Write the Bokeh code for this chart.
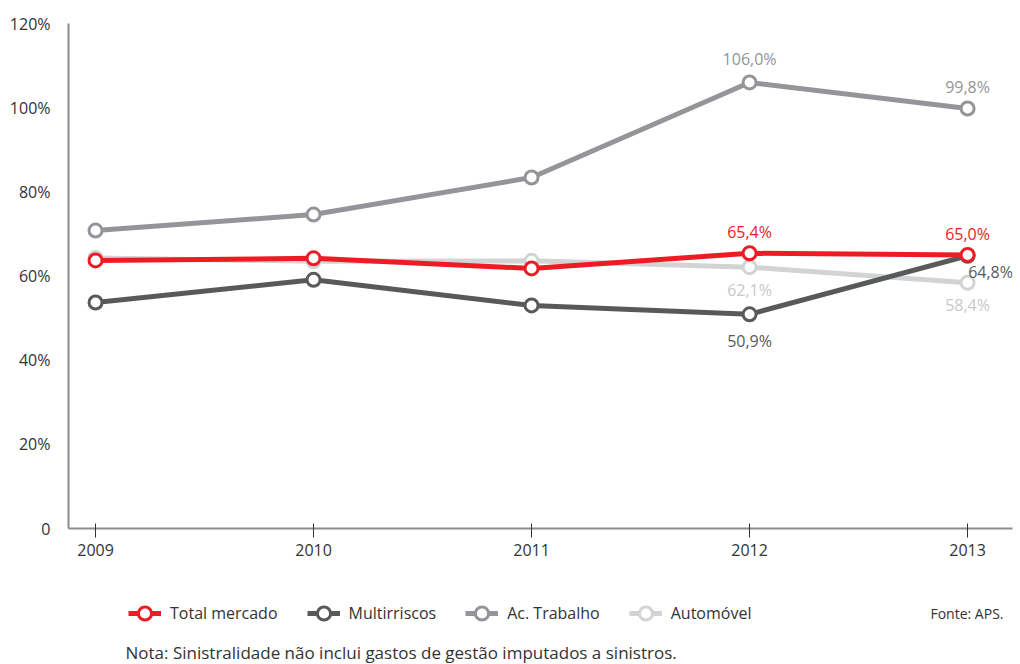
from bokeh.plotting import figure
from bokeh.models import (ColumnDataSource, FixedTicker, Legend, LegendItem,
                          LabelSet, Label, Range1d)
from bokeh.layouts import column
from bokeh.core.properties import value
from bokeh.embed import file_html
from bokeh.resources import INLINE

years = [2009, 2010, 2011, 2012, 2013]
total_mercado = [63.7, 64.2, 61.8, 65.4, 65.0]
multirriscos = [53.7, 59.1, 53.0, 50.9, 64.8]
ac_trabalho = [70.8, 74.6, 83.4, 106.0, 99.8]
automovel = [64.3, 63.5, 63.6, 62.1, 58.4]
y_ticks = [0, 20, 40, 60, 80, 100, 120]
y_tick_labels = ["0", "20%", "40%", "60%", "80%", "100%", "120%"]

names = ["Total mercado", "Multirriscos", "Ac. Trabalho", "Automóvel"]
series = [total_mercado, multirriscos, ac_trabalho, automovel]
colors = ["#ed1c24", "#58595b", "#939598", "#d1d3d4"]
label_colors = ["#ed1c24", "#58595b", "#939598", "#c8c9cb"]
# label offsets (px) for last two points: (x_off, y_off) for 2012 and 2013
offsets = {
    "Total mercado": [(0, 21), (0, 21)],
    "Multirriscos": [(0, -27), (23, -16)],
    "Ac. Trabalho": [(0, 23), (0, 22)],
    "Automóvel": [(0, -23), (0, -22)],
}
FONT = "Open Sans"

p = figure(width=1020, height=570, output_backend="svg", toolbar_location=None,
           x_range=Range1d(2008.876, 2013.206), y_range=Range1d(0, 120),
           frame_width=944, frame_height=505,
           min_border_left=68, min_border_right=8, min_border_top=23,
           min_border_bottom=42)
p.outline_line_color = None
p.grid.grid_line_color = None

# axes
p.yaxis.ticker = FixedTicker(ticks=y_ticks)
p.yaxis.major_label_overrides = {t: l for t, l in zip(y_ticks, y_tick_labels)}
p.yaxis.major_tick_line_color = None
p.yaxis.minor_tick_line_color = None
p.yaxis.axis_line_color = "#8c8c8c"
p.yaxis.axis_line_width = 2
p.yaxis.major_label_standoff = 12
p.xaxis.ticker = FixedTicker(ticks=years)
p.xaxis.minor_tick_line_color = None
p.xaxis.axis_line_color = "#8c8c8c"
p.xaxis.axis_line_width = 2
p.xaxis.major_tick_in = 5
p.xaxis.major_tick_out = 9
p.xaxis.major_tick_line_color = "#333333"
p.xaxis.major_label_standoff = 6
for ax in (p.xaxis, p.yaxis):
    ax.major_label_text_font = FONT
    ax.major_label_text_font_size = "16px"
    ax.major_label_text_color = "#333333"

order = ["Automóvel", "Ac. Trabalho", "Multirriscos", "Total mercado"]
for name in order:
    i = names.index(name)
    src = ColumnDataSource(dict(x=years, y=series[i]))
    p.line("x", "y", source=src, line_color=colors[i], line_width=5)
    p.scatter("x", "y", source=src, size=13, fill_color="white",
              line_color=colors[i], line_width=3)

    vals = series[i][-2:]
    lsrc = ColumnDataSource(dict(
        x=years[-2:], y=vals,
        t=[f"{v:.1f}".replace(".", ",") + "%" for v in vals],
        xo=[o[0] for o in offsets[name]], yo=[o[1] for o in offsets[name]]))
    p.add_layout(LabelSet(x="x", y="y", text="t", source=lsrc,
                          x_offset="xo", y_offset="yo",
                          text_align="center", text_baseline="middle",
                          text_color=label_colors[i],
                          text_font=value(FONT), text_font_size="16px"))

# footer figure: legend, source and note (frame aligned with the chart above)
f = figure(width=1020, height=94, output_backend="svg", toolbar_location=None,
           x_range=Range1d(68, 1012), y_range=Range1d(0, 94),
           frame_width=944, frame_height=94,
           min_border_left=68, min_border_right=8, min_border_top=0,
           min_border_bottom=0, x_axis_type=None, y_axis_type=None)
f.outline_line_color = None
f.grid.grid_line_color = None
items = []
for i, name in enumerate(names):
    src = ColumnDataSource(dict(x=[float("nan")], y=[float("nan")]))
    ln = f.line("x", "y", source=src, line_color=colors[i], line_width=5)
    sc = f.scatter("x", "y", source=src, size=13, fill_color="white",
                   line_color=colors[i], line_width=3)
    items.append(LegendItem(label=name, renderers=[ln, sc]))

legend = Legend(items=items, orientation="horizontal", location=(60, 34),
                padding=0, margin=0, spacing=29, glyph_width=33, glyph_height=34,
                label_height=34, label_standoff=9, border_line_color=None,
                background_fill_alpha=0,
                label_text_font=FONT, label_text_font_size="16px",
                label_text_color="#333333")
f.add_layout(legend)

f.add_layout(Label(x=1003, y=51, text="Fonte: APS.",
                   text_align="right", text_baseline="middle",
                   text_font=FONT, text_font_size="14px", text_color="#333333"))
f.add_layout(Label(x=125, y=12,
                   text="Nota: Sinistralidade não inclui gastos de gestão imputados a sinistros.",
                   text_align="left", text_baseline="middle",
                   text_font=FONT, text_font_size="17px", text_color="#333333"))

open("out.html", "w").write(file_html(column(p, f), INLINE))
